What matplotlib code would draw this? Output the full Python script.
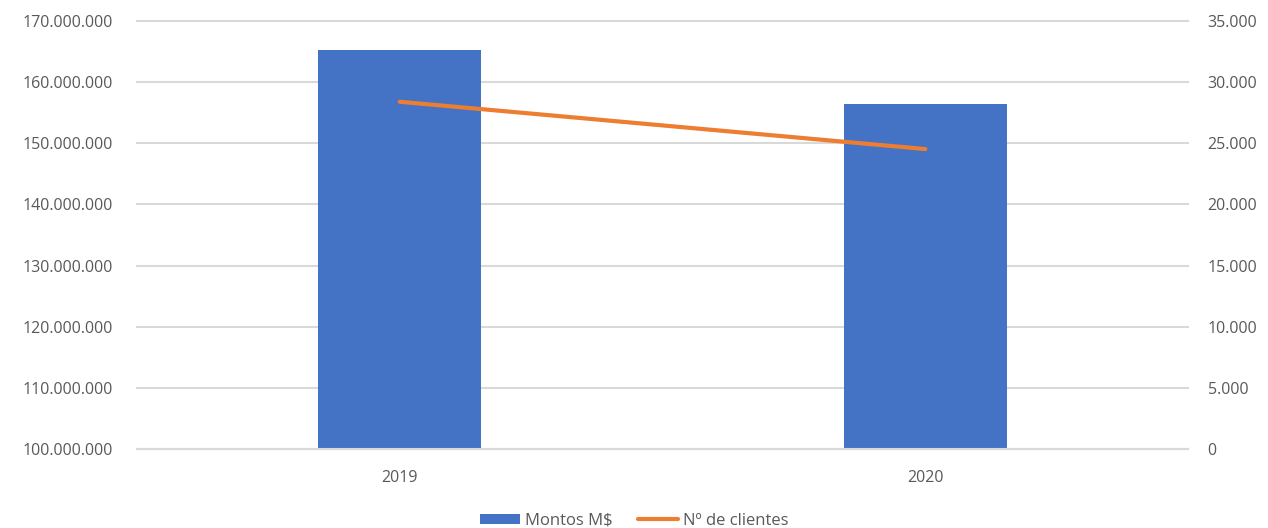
import matplotlib
matplotlib.use("Agg")
import matplotlib.pyplot as plt
from matplotlib.ticker import FuncFormatter

years = ["2019", "2020"]
montos = [165_260_000, 156_500_000]
clientes = [28_400, 24_530]
left_ticks = list(range(100_000_000, 170_000_001, 10_000_000))
right_ticks = list(range(0, 35_001, 5_000))

plt.rcParams['font.family'] = ['Open Sans', 'DejaVu Sans']
tick_color = '#595959'

fig = plt.figure(figsize=(12.68, 5.28), dpi=100)
ax = fig.add_axes([0.108, 0.150, 0.829, 0.810])
ax2 = ax.twinx()

x = list(range(len(years)))
ax.bar(x, montos, width=0.31, color='#4472C4', label='Montos M$', zorder=2)
ax.set_ylim(100_000_000, 170_000_000)
ax.set_xlim(-0.5, 1.5)
ax.set_yticks(left_ticks)
fmt = FuncFormatter(lambda v, p: f"{int(v):,}".replace(",", "."))
ax.yaxis.set_major_formatter(fmt)
ax.set_xticks(x)
ax.set_xticklabels(years)
ax.grid(axis='y', color='#d9d9d9', linewidth=1.5, zorder=0)
for gl in ax.get_ygridlines():
    gl.set_clip_on(False)
ax.set_axisbelow(True)

ax2.plot(x, clientes, color='#ED7D31', linewidth=3, solid_capstyle='round',
         label='Nº de clientes', zorder=3)
ax2.set_ylim(0, 35_000)
ax2.set_yticks(right_ticks)
ax2.yaxis.set_major_formatter(fmt)

for a in (ax, ax2):
    for s in a.spines.values():
        s.set_visible(False)
    a.tick_params(length=0, labelsize=11.5, colors=tick_color)
ax.tick_params(axis='y', pad=17)
ax2.tick_params(axis='y', pad=14)
ax.tick_params(axis='x', pad=15)
ax.spines['bottom'].set_visible(True)
ax.spines['bottom'].set_color('#d9d9d9')
ax.spines['bottom'].set_linewidth(1.5)

h1, l1 = ax.get_legend_handles_labels()
h2, l2 = ax2.get_legend_handles_labels()
fig.legend(h1 + h2, l1 + l2, loc='lower center', ncol=2, frameon=False,
           bbox_to_anchor=(0.5, -0.03), fontsize=12, labelcolor=tick_color,
           handlelength=2.4, handleheight=0.6, handletextpad=0.3,
           columnspacing=1.5)

fig.savefig("out.png", dpi=100)
